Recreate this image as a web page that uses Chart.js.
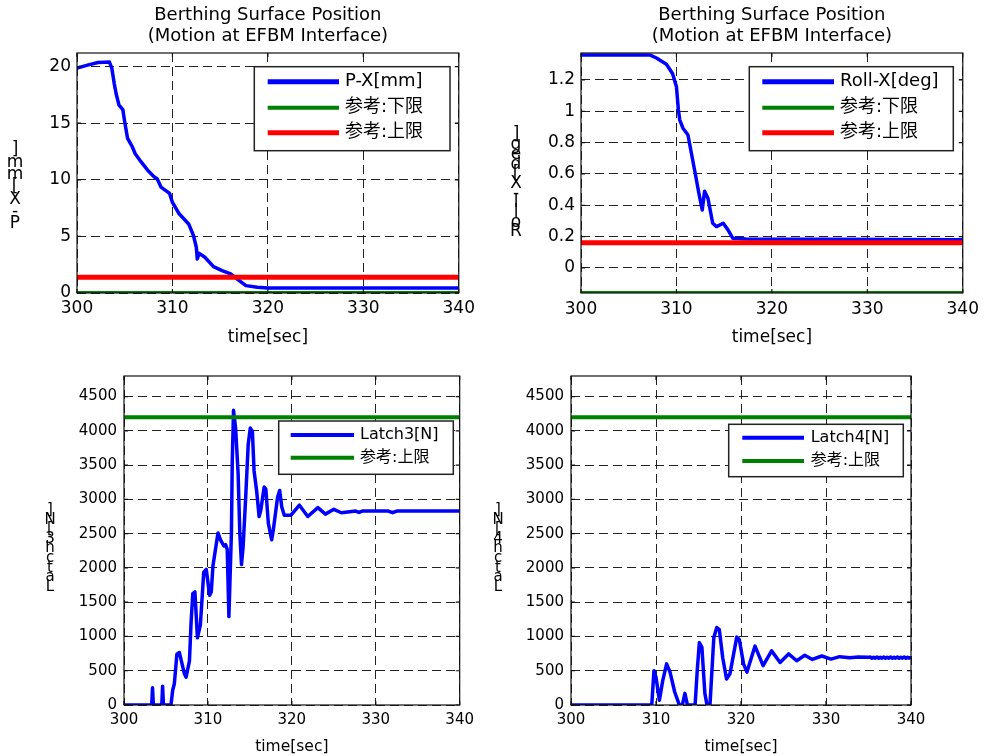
<!DOCTYPE html>
<html>
<head>
<meta charset="utf-8">
<script src="https://cdn.jsdelivr.net/npm/chart.js@4.4.1/dist/chart.umd.min.js"></script>
<style>
html,body{margin:0;padding:0;background:#fff;overflow:hidden;width:985px;height:756px;}
.c{position:absolute;}
</style>
</head>
<body>
<div class="c" style="left:0;top:0"><canvas id="c1" width="480" height="355"></canvas></div>
<div class="c" style="left:490px;top:0"><canvas id="c2" width="495" height="355"></canvas></div>
<div class="c" style="left:0;top:360px"><canvas id="c3" width="480" height="396"></canvas></div>
<div class="c" style="left:490px;top:360px"><canvas id="c4" width="495" height="396"></canvas></div>
<script>
// ---------------- data ----------------
const xTicks = [300, 310, 320, 330, 340];
const pxTicks = [0, 5, 10, 15, 20];
const rollTicks = [0, 0.2, 0.4, 0.6, 0.8, 1, 1.2];
const latchTicks = [0, 500, 1000, 1500, 2000, 2500, 3000, 3500, 4000, 4500];

const chartTitle = ['Berthing Surface Position', '(Motion at EFBM Interface)'];
const xAxisTitle = 'time[sec]';

const pxLabels = ['P-X[mm]', '参考:下限', '参考:上限'];
const pxTime = [300, 301.2, 302.2, 303.4, 303.65, 303.9, 304.1, 304.4, 304.8, 305.0, 305.3, 305.8, 306.1, 306.7, 307.4, 308.1, 308.4, 308.8, 309.7, 310.0, 310.7, 311.7, 312.2, 312.5, 312.6, 312.8, 313.4, 314.3, 315.2, 316.1, 317.0, 317.7, 318.9, 320.0, 340];
const pxValues = [19.86, 20.15, 20.36, 20.4, 19.86, 18.5, 17.6, 16.6, 16.2, 15.1, 13.65, 12.9, 12.3, 11.6, 10.85, 10.25, 10.1, 9.36, 8.8, 8.0, 7.0, 6.1, 5.08, 4.04, 3.0, 3.5, 3.16, 2.33, 1.98, 1.68, 1.09, 0.65, 0.5, 0.45, 0.45];
const pxLower = 0;
const pxUpper = 1.4;

const rollLabels = ['Roll-X[deg]', '参考:下限', '参考:上限'];
const rollTime = [300, 307.2, 307.9, 308.95, 309.6, 310.0, 310.2, 310.35, 310.7, 311.2, 311.9, 312.35, 312.7, 312.95, 313.3, 313.8, 314.2, 314.9, 315.4, 315.9, 317.3, 340];
const rollValues = [1.36, 1.36, 1.34, 1.30, 1.24, 1.157, 1.01, 0.944, 0.89, 0.85, 0.625, 0.477, 0.37, 0.49, 0.445, 0.285, 0.264, 0.285, 0.243, 0.19, 0.185, 0.18];
const rollLower = -0.16;
const rollUpper = 0.16;

const latch3Labels = ['Latch3[N]', '参考:上限'];
const latch3Time = [300, 303.3, 303.4, 303.5, 304.5, 304.6, 304.7, 305.6, 305.8, 306.0, 306.3, 306.6, 307.2, 307.4, 307.8, 308.0, 308.2, 308.45, 308.75, 309.1, 309.5, 309.8, 310.2, 310.4, 310.6, 311.2, 311.5, 311.9, 312.1, 312.3, 312.5, 312.8, 312.9, 313.05, 313.3, 313.6, 313.8, 314.0, 314.2, 314.5, 314.8, 315.05, 315.3, 315.5, 315.8, 316.1, 316.3, 316.7, 316.9, 317.2, 317.6, 317.8, 318.3, 318.55, 318.8, 319.1, 319.9, 320.9, 321.9, 323.1, 324.0, 325.0, 325.9, 326.9, 327.6, 328.0, 328.4, 331.5, 332.0, 332.5, 340];
const latch3Values = [0, 0, 250, 0, 0, 275, 0, 0, 215, 310, 740, 765, 455, 405, 645, 1220, 1625, 1650, 980, 1170, 1935, 1980, 1600, 1650, 2030, 2510, 2410, 2320, 2340, 2270, 1290, 2510, 3560, 4300, 4040, 3370, 2510, 2050, 2320, 3030, 3800, 4040, 3990, 3415, 3130, 2750, 2840, 3180, 3150, 2650, 2410, 2560, 3030, 3130, 2890, 2770, 2770, 2915, 2750, 2880, 2785, 2855, 2805, 2820, 2830, 2810, 2830, 2830, 2805, 2830, 2830];

const latch4Labels = ['Latch4[N]', '参考:上限'];
const latch4Time = [300, 309.5, 309.76, 310.0, 310.4, 310.8, 311.25, 311.65, 312.2, 312.75, 313.1, 313.4, 313.7, 314.6, 314.85, 315.1, 315.4, 315.75, 316.0, 316.35, 316.8, 317.15, 317.45, 317.85, 318.3, 318.7, 319.5, 319.8, 320.3, 320.7, 321.65, 322.6, 323.6, 324.6, 325.6, 326.55, 327.5, 328.4, 329.5, 330.6, 331.6, 332.8, 333.8, 335.0,
  335.2, 335.4, 335.6, 335.8, 336.0, 336.2, 336.4, 336.6, 336.8, 337.0, 337.2, 337.4, 337.6, 337.8, 338.0, 338.2, 338.4, 338.6, 338.8, 339.0, 339.2, 339.4, 339.6, 339.8, 340.0];
const latch4Values = [0, 0, 500, 405, 70, 360, 600, 480, 190, 0, 0, 170, 0, 0, 500, 910, 840, 170, 0, 0, 980, 1130, 1100, 690, 380, 455, 990, 955, 600, 480, 860, 575, 790, 620, 745, 645, 725, 665, 715, 670, 705, 690, 700, 695,
  699, 683, 698, 684, 699, 683, 698, 684, 699, 683, 698, 684, 699, 683, 698, 684, 699, 683, 698, 684, 699, 683, 698, 684, 691];
const latchUpper = 4200;

// ---------------- helpers ----------------
const FONT = "'DejaVu Sans', 'Noto Sans CJK JP', sans-serif";
const BLUE = '#0000ff', GREEN = '#008000', RED = '#ff0000';
Chart.defaults.font.family = FONT;
Chart.defaults.color = '#000';

const pts = (xs, ys) => xs.map((x, i) => ({x: x, y: ys[i]}));
const hline = v => [{x: xTicks[0], y: v}, {x: xTicks[xTicks.length - 1], y: v}];

const axesBox = {
  id: 'axesBox',
  afterDatasetsDraw(chart) {
    const {ctx, chartArea: a, scales} = chart;
    ctx.save();
    ctx.setLineDash([]);
    ctx.strokeStyle = '#111';
    ctx.lineWidth = 1.2;
    ctx.beginPath();
    scales.x.ticks.forEach(t => {
      const p = scales.x.getPixelForValue(t.value);
      ctx.moveTo(p, a.bottom); ctx.lineTo(p, a.bottom - 4);
      ctx.moveTo(p, a.top); ctx.lineTo(p, a.top + 4);
    });
    scales.y.ticks.forEach(t => {
      const p = scales.y.getPixelForValue(t.value);
      ctx.moveTo(a.left, p); ctx.lineTo(a.left + 4, p);
      ctx.moveTo(a.right, p); ctx.lineTo(a.right - 4, p);
    });
    ctx.stroke();
    ctx.strokeRect(a.left, a.top, a.right - a.left, a.bottom - a.top);
    ctx.restore();
  }
};

const boxLegend = {
  id: 'boxLegend',
  afterDraw(chart, args, o) {
    const {ctx} = chart;
    const [l, t, r, b] = o.box;
    ctx.save();
    ctx.setLineDash([]);
    ctx.fillStyle = '#fff';
    ctx.fillRect(l, t, r - l, b - t);
    ctx.strokeStyle = '#222';
    ctx.lineWidth = 1.5;
    ctx.strokeRect(l, t, r - l, b - t);
    ctx.font = o.fontSize + 'px ' + FONT;
    ctx.textBaseline = 'middle';
    ctx.textAlign = 'left';
    chart.data.datasets.forEach((ds, i) => {
      const y = o.rows[i];
      ctx.strokeStyle = ds.borderColor;
      ctx.lineWidth = o.lineWidths[i];
      ctx.beginPath();
      ctx.moveTo(o.lineX[0], y);
      ctx.lineTo(o.lineX[1], y);
      ctx.stroke();
      ctx.fillStyle = '#000';
      ctx.fillText(ds.label, o.textX, y);
    });
    ctx.restore();
  }
};

const stackedTitle = {
  id: 'stackedTitle',
  afterDraw(chart, args, o) {
    const {ctx} = chart;
    const chars = Array.from(o.text);
    const n = chars.length;
    const step = (o.yBottom - o.yTop) / (n - 1);
    ctx.save();
    ctx.font = o.fontSize + 'px ' + FONT;
    ctx.fillStyle = '#000';
    ctx.textAlign = 'center';
    ctx.textBaseline = 'middle';
    chars.forEach((ch, i) => {
      ctx.fillText(ch, o.x, o.yBottom - i * step);
    });
    ctx.restore();
  }
};

function makeScales(o) {
  const gridCommon = {color: '#222', lineWidth: 1, drawTicks: false};
  return {
    x: {
      type: 'linear',
      min: xTicks[0], max: xTicks[xTicks.length - 1],
      afterBuildTicks: s => { s.ticks = xTicks.map(v => ({value: v})); },
      ticks: {font: {size: o.tickSize}, color: '#000', padding: o.xTickPad, autoSkip: false, maxRotation: 0, callback: v => String(v)},
      grid: gridCommon,
      border: {display: false, dash: [9, 5]},
      title: {display: true, text: xAxisTitle, color: '#000', font: {size: o.xTitleSize, lineHeight: 1.2}, padding: {top: 0, bottom: o.xTitlePb}},
      afterFit: s => { s.height = o.xHeight; }
    },
    y: {
      type: 'linear',
      min: o.yMin, max: o.yMax,
      afterBuildTicks: s => { s.ticks = o.yTicks.map(v => ({value: v})); },
      ticks: {font: {size: o.tickSize}, color: '#000', padding: o.yTickPad, autoSkip: false, callback: v => String(v)},
      grid: gridCommon,
      border: {display: false, dash: [9, 5]},
      afterFit: s => { s.width = o.yWidth; }
    }
  };
}

function lineDs(label, data, color, width, order) {
  return {label, data, borderColor: color, backgroundColor: color, borderWidth: width,
    borderJoinStyle: 'round', borderCapStyle: 'round',
    pointRadius: 0, pointHoverRadius: 0, tension: 0, fill: false, clip: 0, order};
}

const common = {
  responsive: false,
  animation: false,
  devicePixelRatio: 1,
  events: []
};

const titleOpts = {display: true, fullSize: false, text: chartTitle, color: '#000',
  font: {size: 18, weight: 'normal', lineHeight: 21 / 18}, padding: {top: 4.5, bottom: 6.5}};

// ---------- Chart 1 : P-X ----------
new Chart(document.getElementById('c1'), {
  type: 'line',
  data: {datasets: [
    lineDs(pxLabels[0], pts(pxTime, pxValues), BLUE, 3.5, 2),
    lineDs(pxLabels[1], hline(pxLower), GREEN, 4, 1),
    lineDs(pxLabels[2], hline(pxUpper), RED, 5, 0)
  ]},
  options: Object.assign({}, common, {
    layout: {padding: {left: 0, right: 19, top: 0, bottom: 0}},
    scales: makeScales({yMin: 0, yMax: 21.2, yTicks: pxTicks, tickSize: 17, xTickPad: 5, yTickPad: 6,
      xTitleSize: 17, xTitlePb: 6.8, xHeight: 62, yWidth: 77}),
    plugins: {
      legend: {display: false},
      tooltip: {enabled: false},
      title: titleOpts,
      boxLegend: {box: [254.3, 66.7, 450, 150.7], lineX: [267.7, 339], textX: 345, rows: [81.7, 107.7, 132.7], fontSize: 18, lineWidths: [5, 4, 5]},
      stackedTitle: {text: pxLabels[0], x: 15, yTop: 150, yBottom: 224, fontSize: 17}
    }
  }),
  plugins: [axesBox, boxLegend, stackedTitle]
});

// ---------- Chart 2 : Roll-X ----------
new Chart(document.getElementById('c2'), {
  type: 'line',
  data: {datasets: [
    lineDs(rollLabels[0], pts(rollTime, rollValues), BLUE, 3.5, 2),
    lineDs(rollLabels[1], hline(rollLower), GREEN, 4, 1),
    lineDs(rollLabels[2], hline(rollUpper), RED, 5, 0)
  ]},
  options: Object.assign({}, common, {
    layout: {padding: {left: 0, right: 21, top: 0, bottom: 0}},
    scales: makeScales({yMin: -0.16, yMax: 1.372, yTicks: rollTicks, tickSize: 17, xTickPad: 6, yTickPad: 6,
      xTitleSize: 17, xTitlePb: 6.8, xHeight: 62, yWidth: 91}),
    plugins: {
      legend: {display: false},
      tooltip: {enabled: false},
      title: titleOpts,
      boxLegend: {box: [259.3, 66.7, 463.3, 150.7], lineX: [272.3, 344], textX: 350, rows: [81.7, 107.7, 132.7], fontSize: 18, lineWidths: [5, 4, 5]},
      stackedTitle: {text: rollLabels[0], x: 26, yTop: 135, yBottom: 232, fontSize: 17}
    }
  }),
  plugins: [axesBox, boxLegend, stackedTitle]
});

// ---------- Chart 3 : Latch3 ----------
new Chart(document.getElementById('c3'), {
  type: 'line',
  data: {datasets: [
    lineDs(latch3Labels[0], pts(latch3Time, latch3Values), BLUE, 3.5, 1),
    lineDs(latch3Labels[1], hline(latchUpper), GREEN, 4, 0)
  ]},
  options: Object.assign({}, common, {
    layout: {padding: {left: 0, right: 16, top: 11, bottom: 0}},
    scales: makeScales({yMin: 0, yMax: 4800, yTicks: latchTicks, tickSize: 15, xTickPad: 6, yTickPad: 7,
      xTitleSize: 15.5, xTitlePb: 0, xHeight: 51, yWidth: 124}),
    plugins: {
      legend: {display: false},
      tooltip: {enabled: false},
      title: {display: false},
      boxLegend: {box: [278.7, 61, 453.3, 114.3], lineX: [290.7, 354], textX: 360, rows: [75, 97.7], fontSize: 16, lineWidths: [4, 4]},
      stackedTitle: {text: latch3Labels[0], x: 50, yTop: 150, yBottom: 227, fontSize: 15}
    }
  }),
  plugins: [axesBox, boxLegend, stackedTitle]
});

// ---------- Chart 4 : Latch4 ----------
new Chart(document.getElementById('c4'), {
  type: 'line',
  data: {datasets: [
    lineDs(latch4Labels[0], pts(latch4Time, latch4Values), BLUE, 3.5, 1),
    lineDs(latch4Labels[1], hline(latchUpper), GREEN, 4, 0)
  ]},
  options: Object.assign({}, common, {
    layout: {padding: {left: 0, right: 74, top: 11, bottom: 0}},
    scales: makeScales({yMin: 0, yMax: 4800, yTicks: latchTicks, tickSize: 15, xTickPad: 6, yTickPad: 7,
      xTitleSize: 15.5, xTitlePb: 0, xHeight: 51, yWidth: 81}),
    plugins: {
      legend: {display: false},
      tooltip: {enabled: false},
      title: {display: false},
      boxLegend: {box: [238.7, 64.3, 413.3, 116.7], lineX: [252.3, 314], textX: 320.7, rows: [77.7, 101], fontSize: 16, lineWidths: [4, 4]},
      stackedTitle: {text: latch4Labels[0], x: 8, yTop: 150, yBottom: 227, fontSize: 15}
    }
  }),
  plugins: [axesBox, boxLegend, stackedTitle]
});
</script>
</body>
</html>
